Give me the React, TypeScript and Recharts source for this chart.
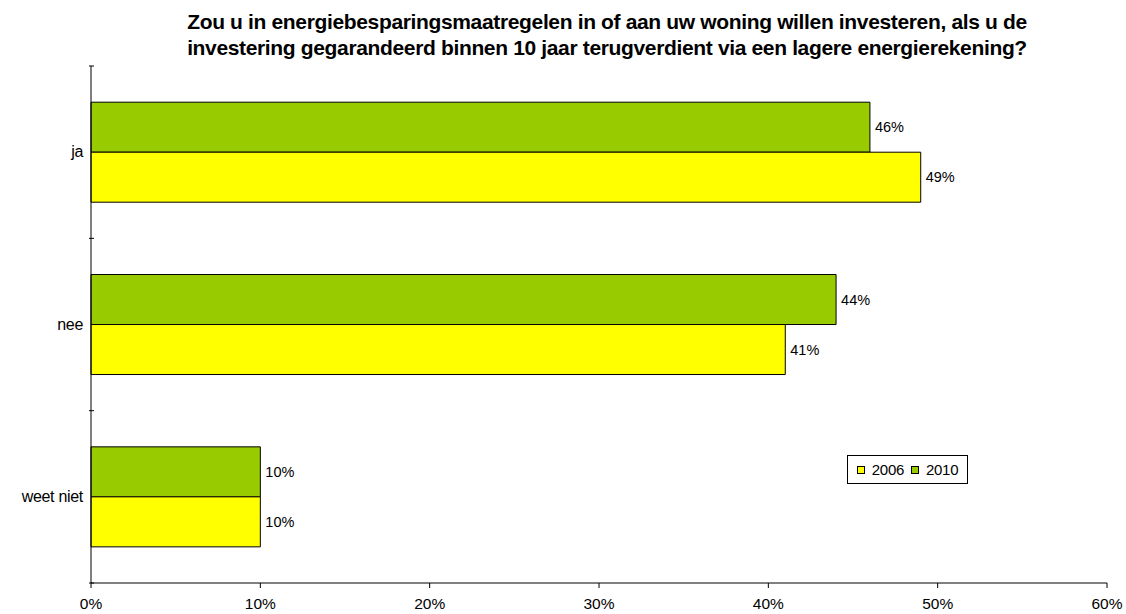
import { BarChart, Bar, XAxis, YAxis, LabelList, Legend } from "recharts";

// answers on the vertical axis
const categories = ["ja", "nee", "weet niet"];
// percentages per year
const values2006 = [49, 41, 10];
const values2010 = [46, 44, 10];
const xTicks = [0, 10, 20, 30, 40, 50, 60];

const data = categories.map((name, i) => ({
  name,
  y2006: values2006[i],
  y2010: values2010[i],
}));

const W = 1126;
const H = 614;
const TOP = 66;
const BOTTOM_AXIS = 31;
const LEFT_AXIS = 91;
const BAND = (H - TOP - BOTTOM_AXIS) / categories.length;

const font = "'Liberation Sans', Arial, sans-serif";

// label at the centre, tick marks on the category boundaries
function CategoryTick(props: any) {
  const { x, y, payload, index } = props;
  const ax = x + 11;
  return (
    <g>
      <line x1={ax - 5} x2={ax} y1={y - BAND / 2} y2={y - BAND / 2} stroke="#000" />
      {index === categories.length - 1 && (
        <line x1={ax - 5} x2={ax} y1={y + BAND / 2} y2={y + BAND / 2} stroke="#000" />
      )}
      <text
        x={x}
        y={y}
        dy={5}
        textAnchor="end"
        fontSize={16}
        letterSpacing={-0.3}
        fill="#000"
        fontFamily={font}
      >
        {payload.value}
      </text>
    </g>
  );
}

function LegendBox() {
  const item = (color: string, label: string, last: boolean) => (
    <span style={{ display: "inline-flex", alignItems: "center", marginRight: last ? 0 : 7 }}>
      <span
        style={{
          width: 8,
          height: 8,
          background: color,
          border: "1px solid #000",
          boxSizing: "border-box",
          display: "inline-block",
          marginRight: 7,
        }}
      />
      {label}
    </span>
  );
  return (
    <div
      style={{
        position: "absolute",
        left: 847,
        top: 455,
        width: 121,
        height: 29,
        border: "1px solid #000",
        boxSizing: "border-box",
        display: "flex",
        alignItems: "center",
        justifyContent: "center",
        fontSize: 15,
        letterSpacing: "-0.3px",
        fontFamily: font,
        background: "#fff",
      }}
    >
      {item("#FFFF00", "2006", false)}
      {item("#99CC00", "2010", true)}
    </div>
  );
}

export default function App() {
  return (
    <div style={{ position: "absolute", left: 0, top: 0, width: W, height: H, background: "#fff" }}>
      <div
        style={{
          position: "absolute",
          left: 0,
          top: 9,
          width: 1214,
          textAlign: "center",
          fontFamily: font,
          fontWeight: "bold",
          fontSize: 21,
          lineHeight: "26px",
          letterSpacing: "-0.35px",
          whiteSpace: "nowrap",
          color: "#000",
        }}
      >
        Zou u in energiebesparingsmaatregelen in of aan uw woning willen investeren, als u de
        <br />
        investering gegarandeerd binnen 10 jaar terugverdient via een lagere energierekening?
      </div>
      <BarChart
        width={W}
        height={H}
        data={data}
        layout="vertical"
        margin={{ top: TOP, right: 19, bottom: 0, left: 0 }}
        barCategoryGap="21%"
        barGap={0}
        style={{ position: "absolute", left: 0, top: 0 }}
      >
        <XAxis
          type="number"
          domain={[0, 60]}
          ticks={xTicks}
          tickFormatter={(v) => `${v}%`}
          tickSize={5}
          tickMargin={10}
          height={BOTTOM_AXIS}
          stroke="#000"
          tick={{ fontSize: 15.5, fill: "#000", fontFamily: font }}
          interval={0}
        />
        <YAxis
          type="category"
          dataKey="name"
          width={LEFT_AXIS}
          stroke="#000"
          tickLine={false}
          tick={<CategoryTick />}
        />
        <Legend content={() => null} />
        <Bar dataKey="y2010" name="2010" fill="#99CC00" stroke="#000" strokeWidth={1} isAnimationActive={false}>
          <LabelList
            dataKey="y2010"
            position="right"
            offset={5}
            formatter={(v: any) => `${v}%`}
            style={{ fontSize: 14.5, fill: "#000", fontFamily: font }}
          />
        </Bar>
        <Bar dataKey="y2006" name="2006" fill="#FFFF00" stroke="#000" strokeWidth={1} isAnimationActive={false}>
          <LabelList
            dataKey="y2006"
            position="right"
            offset={5}
            formatter={(v: any) => `${v}%`}
            style={{ fontSize: 14.5, fill: "#000", fontFamily: font }}
          />
        </Bar>
      </BarChart>
      <LegendBox />
    </div>
  );
}
